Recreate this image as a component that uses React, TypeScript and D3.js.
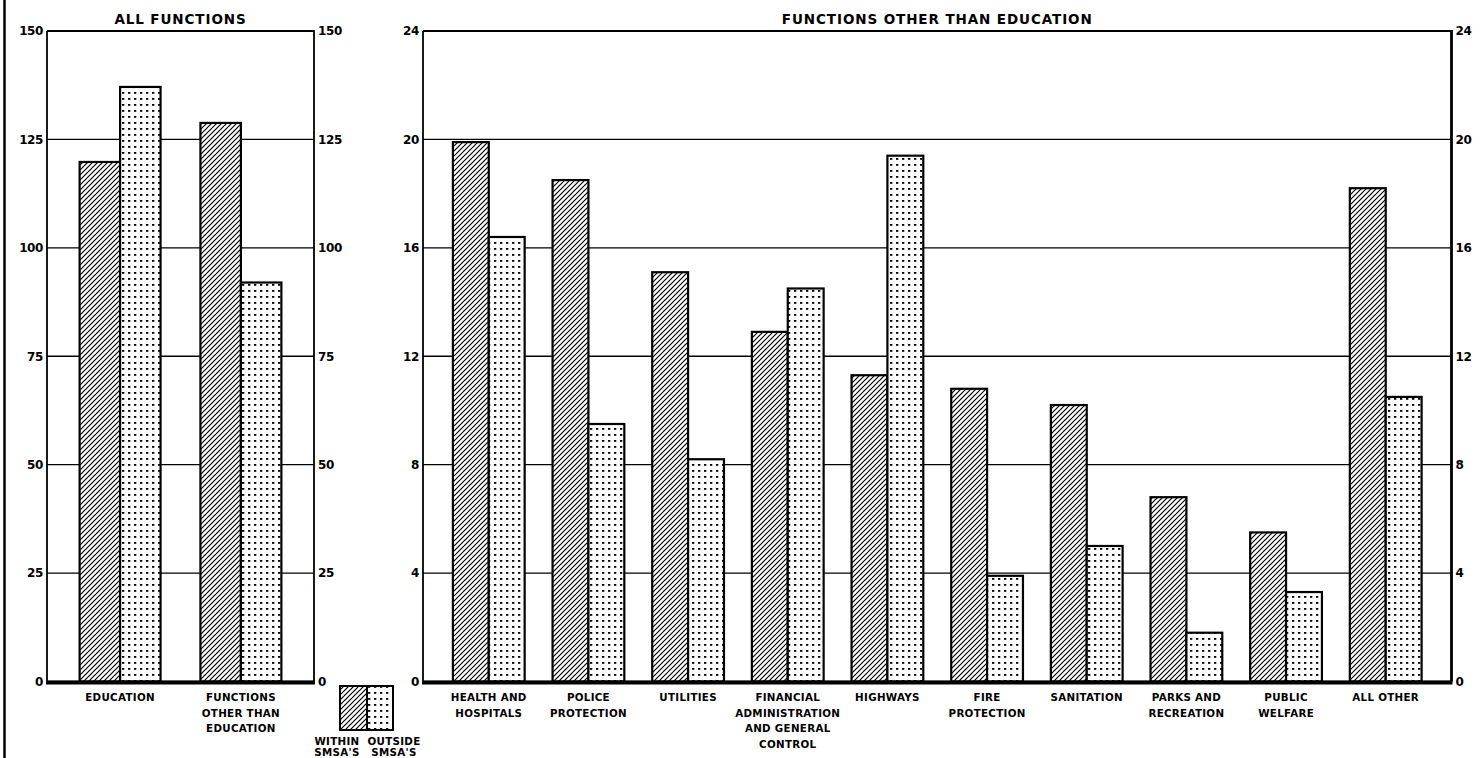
import React from "react";
import * as d3 from "d3";

// ---------- DATA ----------
const allCategories = ["EDUCATION", "FUNCTIONS OTHER THAN EDUCATION"];
const allCategoryLines = [["EDUCATION"], ["FUNCTIONS", "OTHER THAN", "EDUCATION"]];
const allWithin = [119.8, 128.8];
const allOutside = [137.1, 92.0];
const allTicks = [0, 25, 50, 75, 100, 125, 150];

const otherCategories = [
  "HEALTH AND HOSPITALS",
  "POLICE PROTECTION",
  "UTILITIES",
  "FINANCIAL ADMINISTRATION AND GENERAL CONTROL",
  "HIGHWAYS",
  "FIRE PROTECTION",
  "SANITATION",
  "PARKS AND RECREATION",
  "PUBLIC WELFARE",
  "ALL OTHER",
];
const otherCategoryLines = [
  ["HEALTH AND", "HOSPITALS"],
  ["POLICE", "PROTECTION"],
  ["UTILITIES"],
  ["FINANCIAL", "ADMINISTRATION", "AND GENERAL", "CONTROL"],
  ["HIGHWAYS"],
  ["FIRE", "PROTECTION"],
  ["SANITATION"],
  ["PARKS AND", "RECREATION"],
  ["PUBLIC", "WELFARE"],
  ["ALL OTHER"],
];
const otherWithin = [19.9, 18.5, 15.1, 12.9, 11.3, 10.8, 10.2, 6.8, 5.5, 18.2];
const otherOutside = [16.4, 9.5, 8.2, 14.5, 19.4, 3.9, 5.0, 1.8, 3.3, 10.5];
const otherTicks = [0, 4, 8, 12, 16, 20, 24];

const seriesNames = ["WITHIN SMSA'S", "OUTSIDE SMSA'S"];
const legendLines = [["WITHIN", "SMSA'S"], ["OUTSIDE", "SMSA'S"]];

const FONT = "'DejaVu Sans', 'Liberation Sans', Arial, sans-serif";

type PanelProps = {
  title: string;
  categories: string[];
  lines: string[][];
  within: number[];
  outside: number[];
  ticks: number[];
  x0: number;
  x1: number;
  padInner: number;
  padOuter: number;
  rightAxisWidth: number;
};

const Y_TOP = 31;
const Y_BOTTOM = 681.5;

function Panel(p: PanelProps) {
  const yMax = p.ticks[p.ticks.length - 1];
  const y = d3.scaleLinear().domain([0, yMax]).range([Y_BOTTOM, Y_TOP]);
  const x = d3
    .scaleBand<string>()
    .domain(p.categories)
    .range([p.x0, p.x1])
    .paddingInner(p.padInner)
    .paddingOuter(p.padOuter);
  const xs = d3.scaleBand<string>().domain(["w", "o"]).range([0, x.bandwidth()]);
  const cx = (p.x0 + p.x1) / 2;
  return (
    <g>
      <text
        x={cx}
        y={24}
        textAnchor="middle"
        fontFamily={FONT}
        fontWeight="bold"
        fontSize={13.5}
        letterSpacing={0.9}
      >
        {p.title}
      </text>
      {/* gridlines */}
      {p.ticks.map((t) => (
        <line
          key={"g" + t}
          x1={p.x0}
          x2={p.x1}
          y1={y(t)}
          y2={y(t)}
          stroke="#000"
          strokeWidth={t === yMax ? 1.8 : 1.3}
        />
      ))}
      {/* tick labels */}
      {p.ticks.map((t) => (
        <g key={"l" + t} fontFamily={FONT} fontWeight="bold" fontSize={12}>
          <text x={p.x0 - 4} y={y(t)} dy="0.36em" textAnchor="end" letterSpacing={-0.4}>
            {t}
          </text>
          <text x={p.x1 + 4} y={y(t)} dy="0.36em" textAnchor="start" letterSpacing={-0.4}>
            {t}
          </text>
        </g>
      ))}
      {/* axes */}
      <line x1={p.x0} x2={p.x0} y1={Y_TOP} y2={Y_BOTTOM} stroke="#000" strokeWidth={1.8} />
      <line x1={p.x1} x2={p.x1} y1={Y_TOP - 1} y2={Y_BOTTOM} stroke="#000" strokeWidth={p.rightAxisWidth} />
      {/* bars */}
      {p.categories.map((c, i) => {
        const bx = x(c)!;
        const vals = [p.within[i], p.outside[i]];
        return (
          <g key={c}>
            {(["w", "o"] as const).map((k, j) => (
              <rect
                key={k}
                x={bx + xs(k)!}
                y={y(vals[j])}
                width={xs.bandwidth()}
                height={Y_BOTTOM - y(vals[j])}
                fill={j === 0 ? "url(#hatch)" : "url(#dots)"}
                stroke="#000"
                strokeWidth={2.2}
              />
            ))}
            <text
              x={bx + x.bandwidth() / 2}
              y={701}
              textAnchor="middle"
              fontFamily={FONT}
              fontWeight="bold"
              fontSize={10.3}
              letterSpacing={0.3}
            >
              {p.lines[i].map((ln, li) => (
                <tspan key={li} x={bx + x.bandwidth() / 2} dy={li === 0 ? 0 : 15.5}>
                  {ln}
                </tspan>
              ))}
            </text>
          </g>
        );
      })}
      {/* baseline */}
      <line x1={p.x0 - 1} x2={p.x1 + 1} y1={Y_BOTTOM + 1} y2={Y_BOTTOM + 1} stroke="#000" strokeWidth={4} />
    </g>
  );
}

export default function App() {
  return (
    <svg
      width={1482}
      height={758}
      style={{ position: "absolute", left: 0, top: 0, display: "block", background: "#fff" }}
    >
      <defs>
        <pattern id="hatch" patternUnits="userSpaceOnUse" width={5} height={5}>
          <rect width={5} height={5} fill="#fff" />
          <path d="M0,5 L5,0 M-1,1 L1,-1 M4,6 L6,4" stroke="#000" strokeWidth={1.2} />
        </pattern>
        <pattern id="dots" patternUnits="userSpaceOnUse" width={6} height={6}>
          <rect width={6} height={6} fill="#fff" />
          <rect x={2} y={2} width={2.3} height={1.8} fill="#000" />
        </pattern>
      </defs>
      <rect width={1482} height={758} fill="#fff" />
      {/* page border line */}
      <line x1={4.5} x2={4.5} y1={0} y2={758} stroke="#000" strokeWidth={2.5} />

      <Panel
        title="ALL FUNCTIONS"
        categories={allCategories}
        lines={allCategoryLines}
        within={allWithin}
        outside={allOutside}
        ticks={allTicks}
        x0={47}
        x1={314}
        padInner={0.33}
        padOuter={0.27}
        rightAxisWidth={1.8}
      />
      <Panel
        title="FUNCTIONS OTHER THAN EDUCATION"
        categories={otherCategories}
        lines={otherCategoryLines}
        within={otherWithin}
        outside={otherOutside}
        ticks={otherTicks}
        x0={423}
        x1={1451.5}
        padInner={0.28}
        padOuter={0.3}
        rightAxisWidth={2.8}
      />

      {/* legend */}
      <g>
        <rect x={340} y={686} width={27} height={44} fill="url(#hatch)" stroke="#000" strokeWidth={2} />
        <rect x={367} y={686} width={26} height={44} fill="url(#dots)" stroke="#000" strokeWidth={2} />
        {seriesNames.map((s, i) => (
          <text
            key={s}
            x={i === 0 ? 337 : 397}
            y={745}
            textAnchor="middle"
            fontFamily={FONT}
            fontWeight="bold"
            fontSize={10.3}
            letterSpacing={0.3}
          >
            {legendLines[i].map((ln, li) => (
              <tspan key={li} x={i === 0 ? 337 : 394} dy={li === 0 ? 0 : 11}>
                {ln}
              </tspan>
            ))}
          </text>
        ))}
      </g>
    </svg>
  );
}
